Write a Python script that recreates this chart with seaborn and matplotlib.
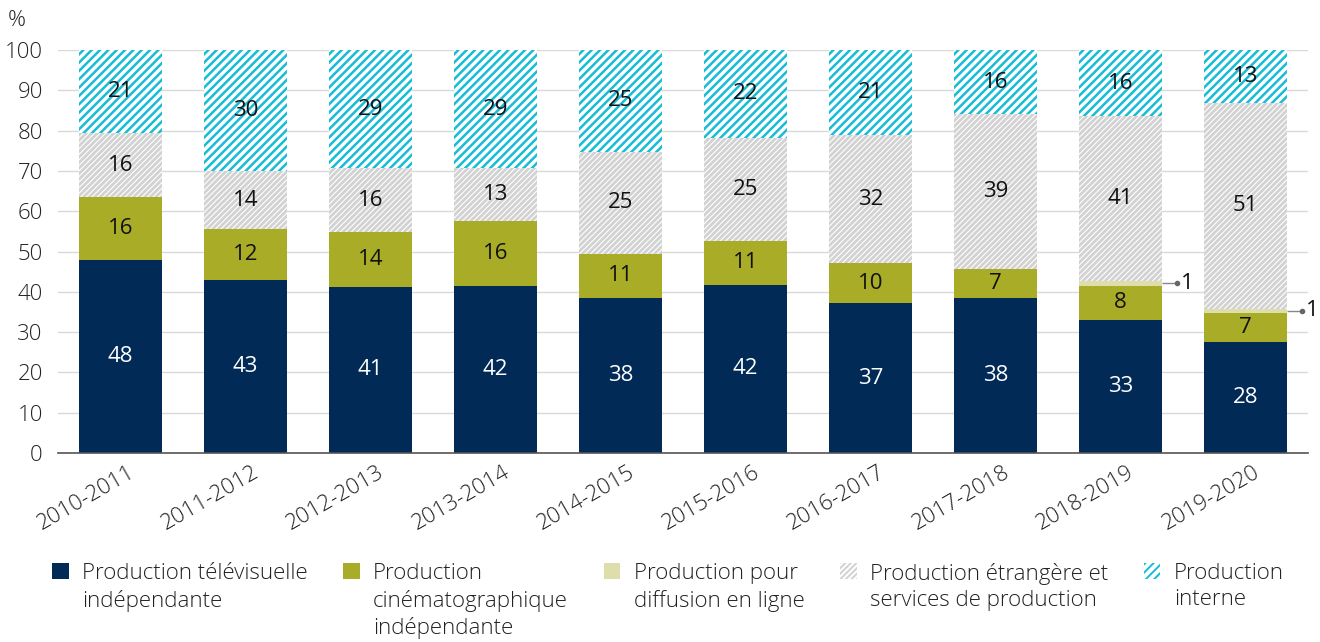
import matplotlib
matplotlib.use("Agg")
import matplotlib.pyplot as plt
import matplotlib.patches as mpatches
import matplotlib.transforms as mtransforms
import numpy as np
import seaborn as sns

# ---------------- data ----------------
categories = ["2010-2011", "2011-2012", "2012-2013", "2013-2014", "2014-2015",
              "2015-2016", "2016-2017", "2017-2018", "2018-2019", "2019-2020"]

tv_values       = [47.9, 42.9, 41.2, 41.5, 38.5, 41.7, 37.2, 38.5, 33.0, 27.6]
cinema_values   = [15.6, 12.6, 13.6, 16.1, 11.0, 11.0, 9.9, 7.2, 8.5, 7.2]
online_values   = [0.0, 0.0, 0.0, 0.0, 0.0, 0.0, 0.0, 0.0, 1.2, 0.9]
foreign_values  = [15.9, 14.5, 15.9, 13.0, 25.2, 25.5, 31.8, 38.4, 40.9, 51.2]
internal_values = [20.6, 30.0, 29.3, 29.4, 25.3, 21.8, 21.1, 15.9, 16.4, 13.1]

tv_labels       = [48, 43, 41, 42, 38, 42, 37, 38, 33, 28]
cinema_labels   = [16, 12, 14, 16, 11, 11, 10, 7, 8, 7]
online_labels   = [None, None, None, None, None, None, None, None, 1, 1]
foreign_labels  = [16, 14, 16, 13, 25, 25, 32, 39, 41, 51]
internal_labels = [21, 30, 29, 29, 25, 22, 21, 16, 16, 13]

series_names = ["Production télévisuelle\nindépendante",
                "Production\ncinématographique\nindépendante",
                "Production pour\ndiffusion en ligne",
                "Production étrangère et\nservices de production",
                "Production\ninterne"]

yticks = [0, 10, 20, 30, 40, 50, 60, 70, 80, 90, 100]

# ---------------- style ----------------
sns.set_theme(style="white")
plt.rcParams["font.family"] = ["Open Sans", "DejaVu Sans"]
plt.rcParams["font.weight"] = "light"
plt.rcParams["hatch.linewidth"] = 1.4
TEXT = "#222222"
FS = 16

NAVY = "#012a56"
OLIVE = "#a9ac26"
PALE = "#dedead"
GRAY = "#d2d2d2"
CYAN = "#17bcd5"

fig = plt.figure(figsize=(13.2, 6.42), dpi=100)
ax = fig.add_axes([58 / 1320, 1 - 453 / 642, 1250 / 1320, 403 / 642])

layers = [tv_values, cinema_values, online_values, foreign_values, internal_values]
cums = np.cumsum(np.array(layers, dtype=float), axis=0)

styles = [
    dict(color=NAVY, hatch=None, edge=NAVY, hlw=None),
    dict(color=OLIVE, hatch=None, edge=OLIVE, hlw=None),
    dict(color=PALE, hatch=None, edge=PALE, hlw=None),
    dict(color=GRAY, hatch="//////", edge="white", hlw=0.8),
    dict(color="white", hatch="////", edge=CYAN, hlw=1.8),
]

BW = 0.665
# draw from the top layer down so lower layers overlay
for k in range(4, -1, -1):
    st = styles[k]
    before = len(ax.patches)
    sns.barplot(x=categories, y=cums[k], color=st["color"], saturation=1,
                width=BW, linewidth=0, edgecolor=st["edge"], ax=ax,
                order=categories, errorbar=None)
    for p in ax.patches[before:]:
        p.set_facecolor(st["color"])
        p.set_edgecolor(st["edge"])
        p.set_linewidth(0)
        if st["hatch"]:
            p.set_hatch(st["hatch"])
            if hasattr(p, "set_hatch_linewidth"):
                p.set_hatch_linewidth(st["hlw"])

# ---------------- labels ----------------
label_sets = [tv_labels, cinema_labels, online_labels, foreign_labels, internal_labels]
label_colors = ["white", "#111111", "#111111", "#111111", "#111111"]
for k in [0, 1, 3, 4]:
    for i, lab in enumerate(label_sets[k]):
        bottom = cums[k - 1][i] if k > 0 else 0.0
        mid = bottom + layers[k][i] / 2
        ax.text(i, mid, str(lab), ha="center", va="center", fontsize=FS,
                fontweight="normal", color=label_colors[k])

# small call-outs for the online segment
for i, lab in enumerate(online_labels):
    if lab is None:
        continue
    y = cums[1][i] + online_values[i] / 2
    x0 = i + BW / 2
    x1 = x0 + 0.12
    ax.plot([x0, x1], [y, y], color="#888888", lw=1, solid_capstyle="butt")
    ax.plot([x1], [y], marker="o", ms=3, color="#666666")
    ax.text(x1 + 0.03, y, str(lab), ha="left", va="center", fontsize=FS,
            fontweight="normal", color="#111111")

# ---------------- axes ----------------
ax.set_xlim(-0.5, len(categories) - 0.5)
ax.set_ylim(0, 100)
ax.set_yticks(yticks)
ax.set_yticklabels([str(v) for v in yticks])
ax.yaxis.grid(True, color="#d9d9d9", lw=1)
ax.set_axisbelow(True)
for s in ["top", "right", "left"]:
    ax.spines[s].set_visible(False)
ax.spines["bottom"].set_color("#555555")
ax.spines["bottom"].set_linewidth(1.2)
ax.set_xlabel("")
ax.set_ylabel("")

ax.tick_params(axis="y", length=0, pad=11, labelsize=FS, labelcolor=TEXT)
ax.set_xticks(range(len(categories)))
ax.set_xticklabels(categories, rotation=30, ha="right", rotation_mode="anchor",
                   fontsize=FS, color=TEXT)
ax.tick_params(axis="x", which="major", length=0, pad=6)
ax.set_xticks(np.arange(-0.5, len(categories), 1.0), minor=True)
ax.tick_params(axis="x", which="minor", length=7, width=1.2, color="#555555")
offset = mtransforms.ScaledTranslation(7 / 100, 0, fig.dpi_scale_trans)
for lbl in ax.get_xticklabels():
    lbl.set_transform(lbl.get_transform() + offset)

fig.text(8 / 1320, 1 - 20 / 642, "%", fontsize=FS, color=TEXT, va="center", ha="left")

# ---------------- legend ----------------
handles = []
for st in styles:
    h = mpatches.Patch(facecolor=st["color"], edgecolor=st["edge"], linewidth=0,
                       hatch=st["hatch"])
    handles.append(h)
leg = fig.legend(handles, series_names, loc="upper left",
                 bbox_to_anchor=(32 / 1320, 1 - 543 / 642), ncol=5, frameon=False,
                 fontsize=FS, handlelength=0.75, handleheight=0.75,
                 handletextpad=0.6, columnspacing=1.6, labelspacing=0.2)
for t in leg.get_texts():
    t.set_color(TEXT)
    t.set_linespacing(1.33)
try:
    leg._legend_handle_box.align = "top"
    for col in leg._legend_handle_box.get_children():
        col.align = "left"
        for item in col.get_children():
            item.align = "top"
except Exception:
    pass

fig.savefig("out.png", dpi=100)
